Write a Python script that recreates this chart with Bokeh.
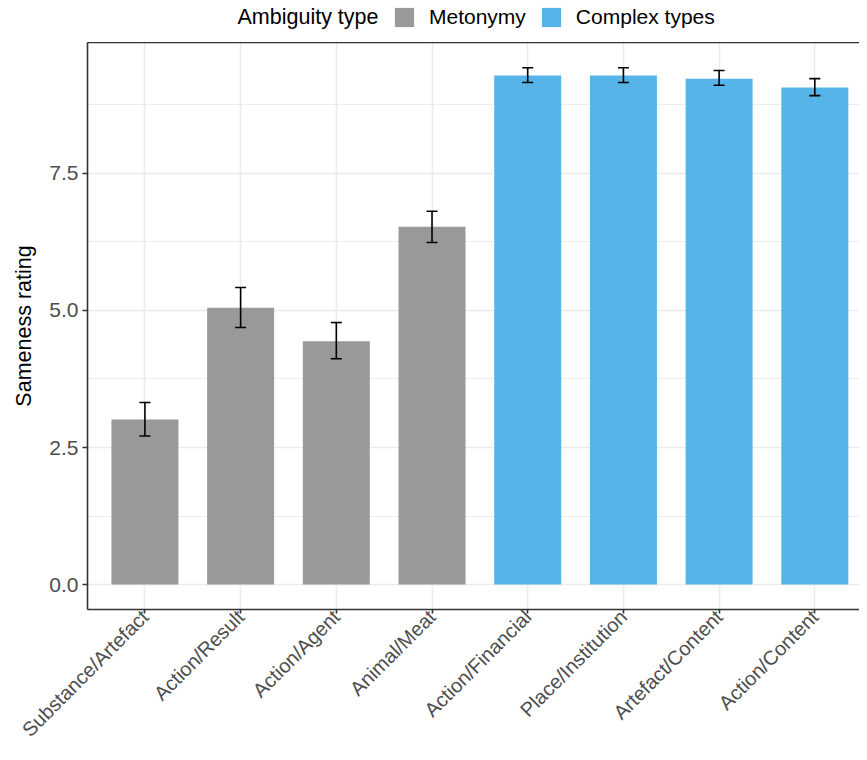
import math
from bokeh.plotting import figure
from bokeh.layouts import column
from bokeh.models import (ColumnDataSource, Range1d, FixedTicker, Whisker, TeeHead,
                          Legend, LegendItem, LinearAxis, NumeralTickFormatter, Label)
from bokeh.transform import factor_cmap
from bokeh.embed import file_html
from bokeh.resources import INLINE

# ---- data ----
categories = ["Substance/Artefact", "Action/Result", "Action/Agent", "Animal/Meat",
              "Action/Financial", "Place/Institution", "Artefact/Content", "Action/Content"]
ambiguity_type = ["Metonymy", "Metonymy", "Metonymy", "Metonymy",
                  "Complex types", "Complex types", "Complex types", "Complex types"]
mean_rating = [3.01, 5.05, 4.44, 6.53, 9.29, 9.29, 9.23, 9.07]
upper_ci = [3.32, 5.42, 4.78, 6.81, 9.43, 9.43, 9.38, 9.23]
lower_ci = [2.71, 4.69, 4.12, 6.24, 9.16, 9.16, 9.11, 8.92]
type_levels = ["Metonymy", "Complex types"]
type_colors = ["#999999", "#56B4E9"]
legend_title = "Ambiguity type"
y_ticks = [0, 2.5, 5.0, 7.5]
y_minor_ticks = [1.25, 3.75, 6.25, 8.75]

positions = list(range(1, len(categories) + 1))
src = ColumnDataSource(dict(x=positions, cat=categories, type=ambiguity_type,
                            mean=mean_rating, upper=upper_ci, lower=lower_ci))

FONT = "Liberation Sans"
BORDER = "#333333"
GRID = "#EBEBEB"
W = 859

# ---------- main chart ----------
p = figure(width=W, height=710, output_backend="svg", toolbar_location=None,
           x_range=Range1d(0.4, 8.467), y_range=Range1d(-0.456, 9.89),
           min_border_left=87, min_border_right=0, min_border_top=0, min_border_bottom=143,
           background_fill_color="white", border_fill_color="white")
p.outline_line_color = None

bars = p.vbar(x="x", top="mean", bottom=0, width=0.7, source=src,
              fill_color=factor_cmap("type", palette=type_colors, factors=type_levels),
              line_color=None)

w = Whisker(source=src, base="x", upper="upper", lower="lower", dimension="height",
            line_color="black", line_width=1.6,
            upper_head=TeeHead(size=11, line_color="black", line_width=1.6),
            lower_head=TeeHead(size=11, line_color="black", line_width=1.6))
w.level = "overlay"
p.add_layout(w)

p.ygrid.grid_line_color = GRID
p.ygrid.grid_line_width = 1.6
p.ygrid.minor_grid_line_color = GRID
p.ygrid.minor_grid_line_width = 0.9
p.xgrid.grid_line_color = GRID
p.xgrid.grid_line_width = 1.6

p.yaxis.ticker = FixedTicker(ticks=y_ticks, minor_ticks=y_minor_ticks)
p.yaxis.formatter = NumeralTickFormatter(format="0.0")
p.yaxis.axis_label = "Sameness rating"
p.yaxis.axis_label_standoff = 10
p.yaxis.axis_label_text_font = FONT
p.yaxis.axis_label_text_font_size = "21.5px"
p.yaxis.axis_label_text_font_style = "normal"
p.yaxis.axis_label_text_color = "black"
p.yaxis.major_label_text_font_size = "21px"
p.yaxis.major_label_standoff = 4
p.yaxis.major_tick_out = 5

p.xaxis.ticker = FixedTicker(ticks=positions)
p.xaxis.major_label_overrides = {i: c for i, c in zip(positions, categories)}
p.xaxis.major_label_orientation = math.pi / 4
p.xaxis.major_label_text_font_size = "20px"
p.xaxis.major_label_standoff = 0
p.xaxis.major_tick_out = 4

for ax in (p.xaxis, p.yaxis):
    ax.axis_line_color = BORDER
    ax.axis_line_width = 1.6
    ax.major_tick_line_color = BORDER
    ax.major_tick_line_width = 1.6
    ax.major_tick_in = 0
    ax.minor_tick_line_color = None
    ax.major_label_text_font = FONT
    ax.major_label_text_color = "#4D4D4D"

# top border (the right border lies outside the cropped picture)
top = LinearAxis(ticker=FixedTicker(ticks=[]), major_label_text_font_size="0px",
                 major_tick_line_color=None, minor_tick_line_color=None,
                 major_tick_out=0, major_tick_in=0, major_label_standoff=0,
                 axis_line_color=BORDER, axis_line_width=1.6)
p.add_layout(top, "above")

# ---------- legend strip above the chart (its frame is aligned with the chart's) ----------
lg = figure(width=W, height=42, output_backend="svg", toolbar_location=None,
            x_range=Range1d(0, 1), y_range=Range1d(0, 1),
            x_axis_location=None, y_axis_location=None,
            min_border_left=0, min_border_right=0, min_border_top=0, min_border_bottom=0,
            background_fill_color="white", border_fill_color="white")
lg.outline_line_color = None
lg.xgrid.visible = False
lg.ygrid.visible = False
key_src = ColumnDataSource(dict(x=[0.5] * len(type_levels), h=[0] * len(type_levels),
                                type=type_levels, color=type_colors))
key_r = lg.vbar(x="x", top="h", bottom="h", width=0.1, source=key_src,
                fill_color="color", line_color=None)
leg = Legend(items=[LegendItem(label=t, renderers=[key_r], index=i)
                    for i, t in enumerate(type_levels)],
             orientation="horizontal", location=(305, 13),
             glyph_width=24, glyph_height=24, label_height=24, label_standoff=13,
             spacing=13, padding=0, margin=0,
             label_text_font=FONT, label_text_font_size="21px", label_text_color="black",
             border_line_color=None, background_fill_alpha=0)
lg.add_layout(leg)
lg.add_layout(Label(x=291, y=25.5, x_units="screen", y_units="screen", text=legend_title,
                    text_align="right", text_baseline="middle", text_font=FONT,
                    text_font_size="21.5px", text_color="black"))

page = column(lg, p, spacing=0)
open("out.html", "w").write(file_html(page, INLINE))
